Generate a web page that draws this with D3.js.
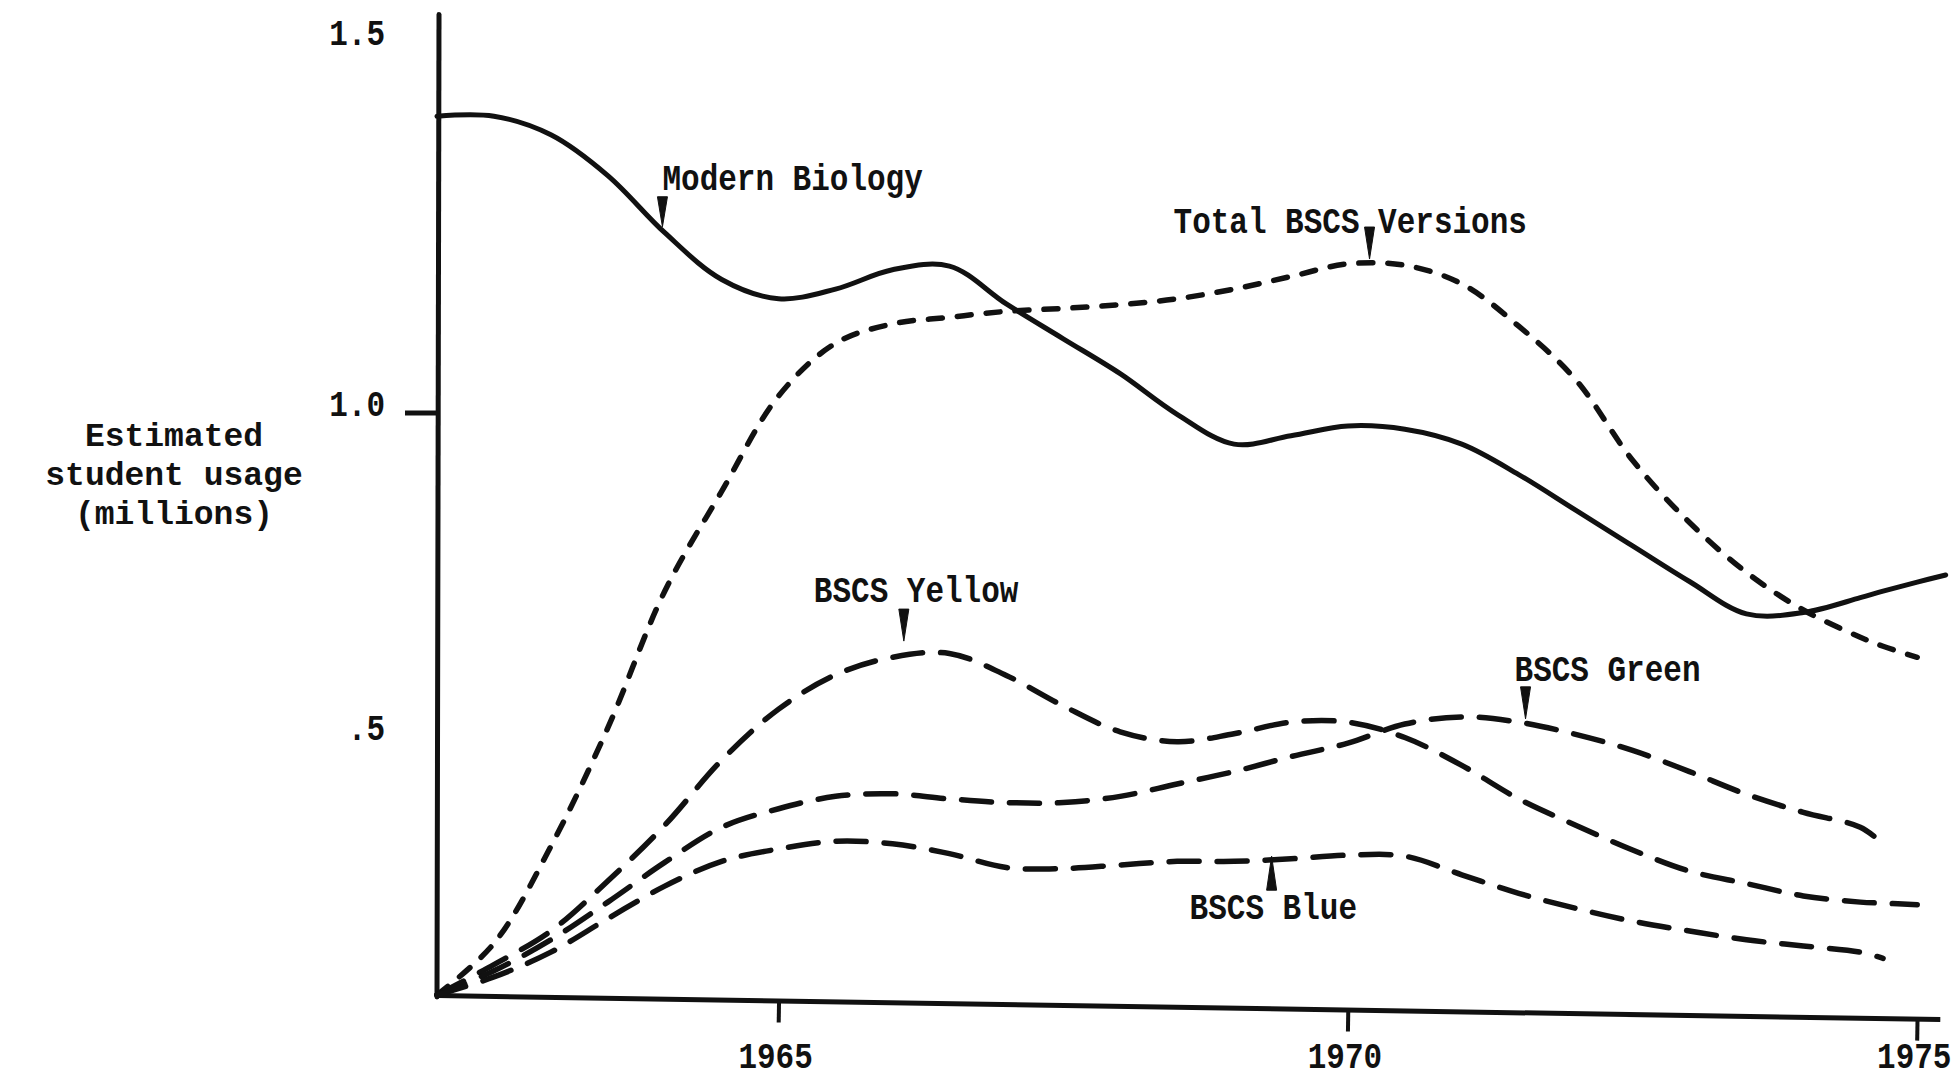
<!DOCTYPE html>
<html>
<head>
<meta charset="utf-8">
<script src="https://cdn.jsdelivr.net/npm/d3@7"></script>
<style>
  html, body { margin: 0; padding: 0; background: #ffffff; }
  svg { display: block; }
  text { font-family: "Liberation Mono", "DejaVu Sans Mono", monospace; font-weight: bold; fill: #111; }
</style>
</head>
<body>
<svg id="chart" width="1952" height="1079"></svg>
<script>
// ---------------- DATA ----------------
const years = [1962, 1962.5, 1963, 1963.5, 1964, 1964.5, 1965, 1965.5, 1966, 1966.5,
               1967, 1967.5, 1968, 1968.5, 1969, 1969.5, 1970, 1970.5, 1971, 1971.5,
               1972, 1972.5, 1973, 1973.5, 1974, 1974.5, 1974.7, 1975, 1975.25];

const modernBiology = [1.40, 1.40, 1.375, 1.32, 1.243, 1.18, 1.154, 1.167, 1.193, 1.198,
                       1.147, 1.10, 1.053, 0.998, 0.952, 0.965, 0.98, 0.975, 0.952, 0.905,
                       0.85, 0.795, 0.74, 0.69, 0.692, 0.715, 0.725, 0.739, 0.75];

const totalBSCS = [0, 0.10, 0.288, 0.514, 0.725, 0.879, 1.023, 1.094, 1.12, 1.129,
                   1.137, 1.141, 1.146, 1.154, 1.167, 1.184, 1.201, 1.199, 1.174, 1.117,
                   1.045, 0.927, 0.831, 0.754, 0.696, 0.654, 0.64, 0.623, null];

const bscsYellow = [0, 0.059, 0.124, 0.221, 0.329, 0.455, 0.543, 0.596, 0.623, 0.629,
                    0.595, 0.548, 0.508, 0.491, 0.505, 0.523, 0.523, 0.499, 0.445, 0.38,
                    0.329, 0.281, 0.24, 0.216, 0.192, 0.18, 0.178, 0.175, null];

const bscsGreen = [0, 0.047, 0.107, 0.18, 0.257, 0.325, 0.361, 0.385, 0.39, 0.38,
                   0.373, 0.373, 0.385, 0.409, 0.433, 0.462, 0.488, 0.52, 0.531, 0.523,
                   0.504, 0.474, 0.433, 0.389, 0.354, 0.325, 0.293, null, null];

const bscsBlue = [0, 0.035, 0.083, 0.148, 0.211, 0.259, 0.283, 0.298, 0.293, 0.274,
                  0.247, 0.245, 0.252, 0.259, 0.259, 0.264, 0.271, 0.269, 0.233, 0.197,
                  0.168, 0.143, 0.124, 0.107, 0.095, 0.083, 0.071, null, null];

const xTickValues = [1965, 1970, 1975];
const xTickLabels = ["1965", "1970", "1975"];
const yTickValues = [0.5, 1.0, 1.5];
const yTickLabels = [".5", "1.0", "1.5"];
const yTitleLines = ["Estimated", "student usage", "(millions)"];

// annotation anchors (arrow tips) in data coordinates
const annotationLabels = ["Modern Biology", "Total BSCS Versions", "BSCS Yellow", "BSCS Green", "BSCS Blue"];
const annotationYears  = [1963.98, 1970.19, 1966.10, 1971.56, 1969.33];
const annotationValues = [1.251, 1.2075, 0.648, 0.528, 0.269];

// ---------------- LAYOUT / STYLE ----------------
const svg = d3.select("#chart");
const plotLeft = 437, plotRight = 1940, plotBottom = 995;
const x = d3.scaleLinear().domain([1962, 1975.2]).range([plotLeft, plotRight]);
// hand-drawn vertical axis: piecewise linear between the printed labels
const y = d3.scaleLinear().domain([0, 0.5, 1.0, 1.5]).range([plotBottom, 737, 413, 42]);

const ink = "#111";
const labelSize = 31, titleSize = 33, stretch = 1.18;

function addText(g, str, tx, ty, size, anchor, sy) {
  return g.append("text")
    .attr("transform", `translate(${tx},${ty}) scale(1,${sy})`)
    .attr("dy", "0.35em")
    .attr("text-anchor", anchor)
    .style("font-size", size + "px")
    .text(str);
}

// ---------------- AXES ----------------
// y axis
const yAxisG = svg.append("g").attr("transform", `translate(${plotLeft},0)`);
yAxisG.append("line")
  .attr("x1", 0).attr("x2", 2)
  .attr("y1", y(0) + 2).attr("y2", y(1.537))
  .attr("stroke", ink).attr("stroke-width", 5).attr("stroke-linecap", "round");
yAxisG.append("line")
  .attr("x1", -32).attr("x2", 0)
  .attr("y1", y(1.0)).attr("y2", y(1.0))
  .attr("stroke", ink).attr("stroke-width", 5);
yTickValues.forEach((v, i) => {
  addText(yAxisG, yTickLabels[i], -52, y(v) - 10, labelSize, "end", stretch);
});

// y title
yTitleLines.forEach((s, i) => {
  addText(svg, s, 174, 434 + i * 39, titleSize, "middle", 1);
});

// x axis (hand-drawn, slightly tilted line and ticks)
const tilt = Math.atan2(24, plotRight - plotLeft) * 180 / Math.PI;
const xAxisG = svg.append("g")
  .attr("transform", `translate(${plotLeft},${plotBottom}) rotate(${tilt}) translate(${-plotLeft},0)`);
const xAxis = d3.axisBottom(x).tickValues(xTickValues).tickSize(22).tickSizeOuter(0)
  .tickFormat("");
xAxisG.call(xAxis);
xAxisG.select(".domain").attr("stroke", ink).attr("stroke-width", 5);
xAxisG.selectAll(".tick line").attr("stroke", ink).attr("stroke-width", 4);
xAxisG.selectAll(".tick text").remove();

// x tick labels (typed level under the axis)
const xLabG = svg.append("g");
xTickValues.forEach((v, i) => {
  addText(xLabG, xTickLabels[i], x(v) - 3, 1055, labelSize, "middle", stretch);
});

// ---------------- SERIES ----------------
const seriesList = [
  { name: "Modern Biology", values: modernBiology, dash: null, width: 5 },
  { name: "Total BSCS Versions", values: totalBSCS, dash: "14,15", width: 5.5 },
  { name: "BSCS Yellow", values: bscsYellow, dash: "30,18", width: 5.5 },
  { name: "BSCS Green", values: bscsGreen, dash: "30,18", width: 5.5 },
  { name: "BSCS Blue", values: bscsBlue, dash: "30,18", width: 5.5 }
];

const line = d3.line()
  .defined(d => d[1] !== null)
  .x(d => x(d[0]))
  .y(d => y(d[1]))
  .curve(d3.curveCatmullRom.alpha(0.5));

const linesG = svg.append("g");
seriesList.forEach(s => {
  const pts = years.map((yr, i) => [yr, s.values[i]]).filter(d => d[1] !== null);
  linesG.append("path")
    .datum(pts)
    .attr("d", line)
    .attr("fill", "none")
    .attr("stroke", ink)
    .attr("stroke-width", s.width)
    .attr("stroke-linecap", "round")
    .attr("stroke-linejoin", "round")
    .attr("stroke-dasharray", s.dash);
});

// ---------------- ANNOTATIONS ----------------
const annLayout = {
  "Modern Biology":      { dx: 0,    dy: -50, dir: "down", len: 30 },
  "Total BSCS Versions": { dx: -196, dy: -39, dir: "down", len: 32 },
  "BSCS Yellow":         { dx: -90,  dy: -52, dir: "down", len: 32 },
  "BSCS Green":          { dx: -11,  dy: -51, dir: "down", len: 32 },
  "BSCS Blue":           { dx: -82,  dy: 50,  dir: "up",   len: 34 }
};
const annG = svg.append("g");
annotationLabels.forEach((lab, i) => {
  const tx = x(annotationYears[i]);
  const ty = y(annotationValues[i]);
  const L = annLayout[lab];
  const s = L.dir === "down" ? -1 : 1;
  annG.append("path")
    .attr("d", `M${tx - 5},${ty + s * L.len} L${tx + 5},${ty + s * L.len} L${tx},${ty} Z`)
    .attr("fill", ink).attr("stroke", ink).attr("stroke-width", 1);
  addText(annG, lab, tx + L.dx, ty + L.dy, labelSize, "start", stretch);
});
</script>
</body>
</html>
